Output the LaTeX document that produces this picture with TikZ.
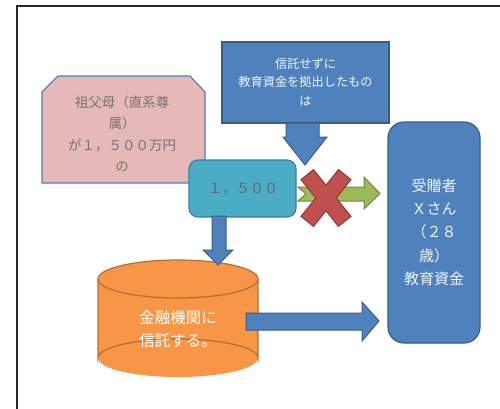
\documentclass[tikz,border=0pt]{standalone}
\usepackage{fontspec}
\newfontfamily\cjk{Noto Sans CJK JP}
\definecolor{pinkfill}{HTML}{E6B9B8}
\definecolor{bluefill}{HTML}{4F81BD}
\definecolor{blueline}{HTML}{385D8A}
\definecolor{tealfill}{HTML}{4BACC6}
\definecolor{tealline}{HTML}{3A7FA8}
\definecolor{orangefill}{HTML}{F79646}
\definecolor{orangeline}{HTML}{B66D31}
\definecolor{greenfill}{HTML}{9BBB59}
\definecolor{greenline}{HTML}{71893F}
\definecolor{redfill}{HTML}{C0504D}
\definecolor{redline}{HTML}{8C3836}
\begin{document}
\begin{tikzpicture}[x=1pt,y=-1pt,
  boxline/.style={line width=1.2pt},
  blockarrow/.style={fill=bluefill,draw=blueline,line width=1pt,line join=miter},
  txt/.style={font=\cjk, align=center, inner sep=0pt}]
\useasboundingbox (0,0) rectangle (500,409);
% outer frame
\draw[line width=1.3pt,black!85] (17,409) -- (17,6) -- (500,6);

% pink box (snipped corners)
\draw[boxline,fill=pinkfill,draw=bluefill] (58,76) -- (190,76) -- (205,92) -- (205,183) -- (42,183) -- (42,92) -- cycle;
\node[txt,text=black!55,font=\cjk\fontsize{13.5}{21.3}\selectfont] (giver) at (122,134)
  {祖父母（直系尊\\属）\\が１，５００万円\\の};

% top blue box
\draw[boxline,fill=bluefill,draw=blueline] (222,42) rectangle (389,123);
\node[txt,text=white!92!bluefill,font=\cjk\fontsize{12.2}{18.5}\selectfont] (notrust) at (305.5,82)
  {信託せずに\\教育資金を拠出したもの\\は};

% right box
\draw[boxline,fill=bluefill,draw=blueline,rounded corners=16pt] (388,122) rectangle (480,343);
\node[txt,text=white!92!bluefill,font=\cjk\fontsize{15}{23.3}\selectfont] (donee) at (434,232)
  {受贈者\\Ｘさん\\（２８\\歳）\\教育資金};

% teal box
\draw[boxline,fill=tealfill,draw=tealline,rounded corners=9pt] (189,160) rectangle (296,217);
\node[txt,text=black!60,font=\cjk\fontsize{14}{16}\selectfont] (amount) at (243,189) {１，５００};

% cylinder
\fill[orangefill] (98,279) rectangle (258,358);
\fill[orangefill] (178,358) ellipse [x radius=80, y radius=19];
\draw[boxline,draw=orangeline] (98,279) -- (98,358) arc[start angle=180, end angle=0, x radius=80, y radius=-19] -- (258,279);
\draw[boxline,draw=orangeline,fill=orangefill] (178,279) ellipse [x radius=80, y radius=19];
\node[txt,align=left,text=white,font=\cjk\fontsize{15.5}{23}\selectfont] (bank) at (178,329)
  {金融機関に\\信託する。};

% arrow from top box down to teal box
\draw[blockarrow] (286,123) -- (319,123) -- (319,137) -- (327,137) -- (305,165) -- (283,137) -- (286,137) -- cycle;
% arrow from teal box down to cylinder
\draw[blockarrow] (212,216) -- (226,216) -- (226,250) -- (233,250) -- (218,265) -- (203,250) -- (212,250) -- cycle;
% arrow from cylinder to right box
\draw[blockarrow] (246,313) -- (362,313) -- (362,302) -- (379,321) -- (362,341) -- (362,330) -- (246,330) -- cycle;

% green notched arrow
\draw[fill=greenfill,draw=greenline,line width=1pt] (298,187) -- (364,187) -- (364,177) -- (380,193.5) -- (364,209) -- (364,201) -- (298,201) -- (306,194) -- cycle;

% red X
\draw[fill=redfill,draw=redline,line width=1pt]
  (301,179.6) -- (313.5,169.6) -- (326,185.2) -- (338.5,169.6) -- (351,179.6) -- (336.2,198)
  -- (351,216.4) -- (338.5,226.4) -- (326,210.8) -- (313.5,226.4) -- (301,216.4) -- (315.8,198) -- cycle;
\end{tikzpicture}
\end{document}
